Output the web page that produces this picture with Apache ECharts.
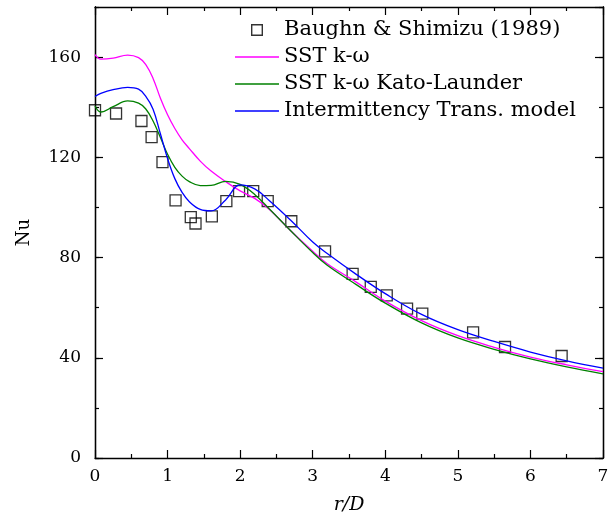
<!DOCTYPE html>
<html>
<head>
<meta charset="utf-8">
<script src="https://cdn.jsdelivr.net/npm/echarts@6/dist/echarts.min.js"></script>
<style>
  html, body { margin: 0; padding: 0; background: #fff; }
  #main { width: 616px; height: 526px; }
</style>
</head>
<body>
<div id="main"></div>
<script>
// experiment (Baughn & Shimizu 1989)
var expR = [0.0, 0.29, 0.64, 0.78, 0.93, 1.11, 1.32, 1.385, 1.61, 1.81, 1.985, 2.18, 2.38, 2.705, 3.17, 3.55, 3.80, 4.02, 4.30, 4.51, 5.21, 5.65, 6.43];
var expNu = [138.8, 137.5, 134.5, 128.1, 118.1, 102.8, 96.1, 93.6, 96.4, 102.5, 106.5, 106.5, 102.5, 94.5, 82.5, 73.5, 68.3, 64.9, 59.6, 57.6, 50.1, 44.3, 40.7];

var simR = [0, 0.08, 0.25, 0.45, 0.6, 0.7, 0.8, 0.9, 1.0, 1.1, 1.2, 1.3, 1.45, 1.6, 1.8, 2.0, 2.2, 2.4, 2.7, 3.0, 3.2, 3.6, 4.0, 4.5, 5.0, 5.5, 6.0, 6.5, 7.0];
var sstNu = [161.0, 159.2, 159.6, 160.8, 159.8, 157.0, 151.5, 143.7, 137.0, 131.5, 127.0, 123.5, 118.5, 114.5, 110.3, 106.6, 103.6, 99.3, 90.6, 82.5, 77.5, 70.2, 62.6, 54.8, 48.8, 44.2, 40.3, 37.2, 34.5];
var katoNu = [140.5, 138.1, 140.2, 142.5, 141.6, 139.3, 134.5, 128.0, 121.2, 116.0, 112.5, 110.3, 108.7, 108.8, 110.4, 109.2, 105.2, 99.5, 90.6, 82.0, 76.9, 69.2, 61.8, 53.9, 47.9, 43.4, 39.6, 36.4, 33.6];
var interNu = [144.3, 145.5, 147.0, 147.9, 147.2, 144.3, 139.2, 129.5, 119.5, 111.5, 106.0, 102.3, 99.2, 98.6, 103.0, 109.0, 107.4, 102.8, 94.8, 86.2, 81.6, 73.3, 65.6, 57.3, 51.2, 46.5, 42.3, 38.8, 35.9];

var xTicks = [0, 7, 1];   // min, max, step
var yTicks = [0, 180, 40];

function pairs(xs, ys) {
    return xs.map(function (x, i) { return [x, ys[i]]; });
}

var font = 'DejaVu Serif';
var myChart = echarts.init(document.getElementById('main'));

var frameLine = { show: true, onZero: false, lineStyle: { color: '#000', width: 1.3 } };

function yAx(pos, step, len, labels) {
    return {
        type: 'value', position: pos, min: yTicks[0], max: yTicks[1], interval: step,
        axisLine: frameLine,
        axisTick: { show: true, inside: true, length: len, lineStyle: { color: '#000', width: 1.2 } },
        axisLabel: { show: labels, showMaxLabel: false, margin: 14, color: '#000', fontFamily: font, fontSize: 17 },
        splitLine: { show: false },
        name: labels ? 'Nu' : '', nameLocation: 'middle', nameGap: 62,
        nameTextStyle: { color: '#000', fontFamily: font, fontSize: 18, verticalAlign: 'bottom' }
    };
}

function xAx(pos, labels) {
    return {
        type: 'value', position: pos, min: xTicks[0], max: xTicks[1], interval: xTicks[2],
        axisLine: frameLine,
        axisTick: { show: true, inside: true, length: 8, lineStyle: { color: '#000', width: 1.2 } },
        minorTick: { show: true, splitNumber: 2, length: 4, lineStyle: { color: '#000', width: 1.2 } },
        axisLabel: { show: labels, margin: 10, color: '#000', fontFamily: font, fontSize: 17 },
        splitLine: { show: false },
        name: labels ? 'r/D' : '', nameLocation: 'middle', nameGap: 38,
        nameTextStyle: { color: '#000', fontFamily: font, fontSize: 19, fontStyle: 'italic' }
    };
}

var lineIcon = 'path://M0,0L44,0L44,1.4L0,1.4Z';
var boxIcon = 'path://M0,0L12,0L12,12L0,12ZM1.4,1.4L1.4,10.6L10.6,10.6L10.6,1.4Z';

var option = {
    backgroundColor: '#fff',
    animation: false,
    grid: { left: 95, right: 13, top: 7, bottom: 68 },
    xAxis: [xAx('bottom', true), xAx('top', false)],
    yAxis: [
        yAx('left', yTicks[2], 8, true),
        yAx('left', 20, 4, false),
        yAx('right', yTicks[2], 8, false),
        yAx('right', 20, 4, false)
    ],
    legend: {
        orient: 'vertical',
        left: 230, top: 14,
        itemWidth: 44, itemHeight: 12, itemGap: 5,
        textStyle: { color: '#000', fontFamily: font, fontSize: 21, lineHeight: 22 },
        data: [
            { name: 'Baughn & Shimizu (1989)', icon: boxIcon, itemStyle: { color: '#000', borderWidth: 0 } },
            { name: 'SST k-ω', icon: lineIcon },
            { name: 'SST k-ω Kato-Launder', icon: lineIcon },
            { name: 'Intermittency Trans. model', icon: lineIcon }
        ]
    },
    series: [
        {
            name: 'Baughn & Shimizu (1989)', type: 'scatter',
            symbol: 'rect', symbolSize: 11,
            itemStyle: { color: 'rgba(255,255,255,0)', borderColor: '#000', borderWidth: 1.3 },
            data: pairs(expR, expNu), z: 2
        },
        {
            name: 'SST k-ω', type: 'line', symbol: 'none', smooth: 0.4,
            lineStyle: { color: '#ff00ff', width: 1.3 }, itemStyle: { color: '#ff00ff' },
            data: pairs(simR, sstNu), z: 3
        },
        {
            name: 'SST k-ω Kato-Launder', type: 'line', symbol: 'none', smooth: 0.4,
            lineStyle: { color: '#008000', width: 1.3 }, itemStyle: { color: '#008000' },
            data: pairs(simR, katoNu), z: 3
        },
        {
            name: 'Intermittency Trans. model', type: 'line', symbol: 'none', smooth: 0.4,
            lineStyle: { color: '#0000ff', width: 1.3 }, itemStyle: { color: '#0000ff' },
            data: pairs(simR, interNu), z: 3
        }
    ]
};

myChart.setOption(option);
</script>
</body>
</html>
